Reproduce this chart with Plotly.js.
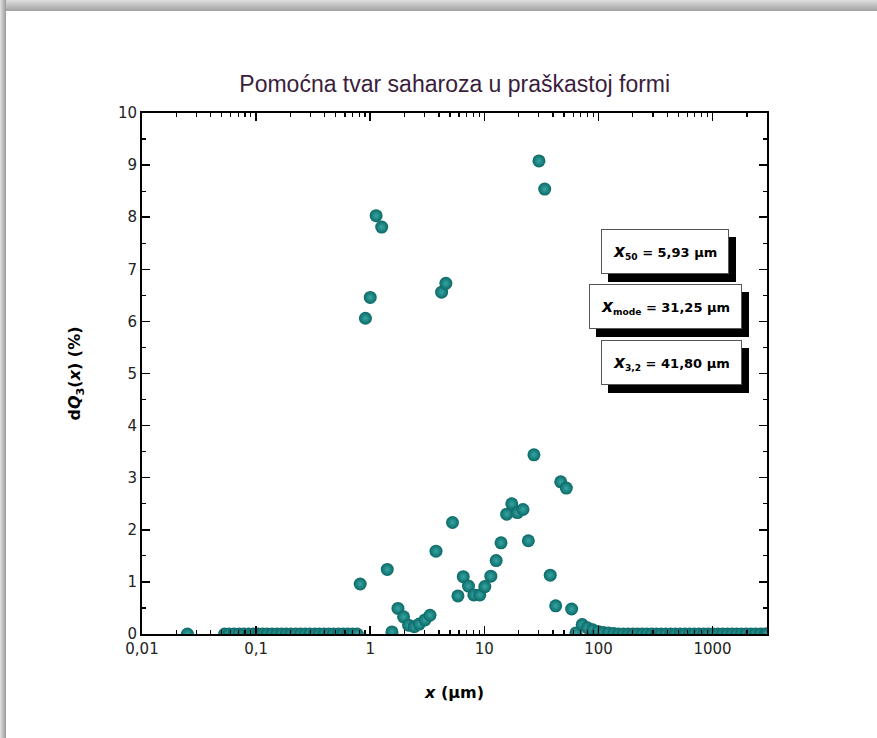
<!DOCTYPE html>
<html>
<head>
<meta charset="utf-8">
<script src="https://cdn.plot.ly/plotly-3.0.1.min.js"></script>
<style>
  html, body { margin: 0; padding: 0; width: 877px; height: 738px; overflow: hidden; background: #ffffff; }
  #frameTop { position: absolute; left: 0; top: 0; width: 877px; height: 11px; z-index: 10;
              background: linear-gradient(to bottom, #dedede, #a2a2a2); }
  #frameLeft { position: absolute; left: 0; top: 0; width: 6px; height: 738px; z-index: 10;
               background: linear-gradient(to right, #e2e2e2, #9a9a9a); }
  #chart { position: absolute; left: 0; top: 0; width: 877px; height: 738px; z-index: 1; }
</style>
</head>
<body>
<div id="chart"></div>
<div id="frameTop"></div>
<div id="frameLeft"></div>
<script>
// Particle size classes (µm) and frequency dQ3(x) (%)
const leftTailSizes = [0.025, 0.053, 0.058, 0.064, 0.071, 0.078, 0.086, 0.094, 0.104, 0.114, 0.125, 0.138, 0.152, 0.167, 0.184, 0.202, 0.222, 0.245, 0.269, 0.296, 0.326, 0.358, 0.394, 0.434, 0.477, 0.525, 0.577, 0.635, 0.699, 0.768];
const leftTailValues = [0, 0, 0, 0, 0, 0, 0, 0, 0, 0, 0, 0, 0, 0, 0, 0, 0, 0, 0, 0, 0, 0, 0, 0, 0, 0, 0, 0, 0, 0];

const mainSizes = [0.817, 0.908, 1.00, 1.126, 1.26, 1.41, 1.55, 1.75, 1.96, 2.17, 2.43, 2.69, 3.02, 3.34, 3.77, 4.22, 4.6, 5.26, 5.87, 6.53, 7.26, 8.09, 9.13, 10.1, 11.4, 12.7, 14.0, 15.7, 17.4, 19.5, 21.8, 24.3, 27.2, 30.1, 33.8, 37.8, 42.2, 46.7, 52.3, 58.2, 63.5, 72.1, 80.0, 89.0, 99.0, 110, 122, 136];
const mainValues = [0.96, 6.06, 6.46, 8.03, 7.81, 1.24, 0.04, 0.49, 0.33, 0.17, 0.14, 0.19, 0.27, 0.36, 1.59, 6.56, 6.73, 2.14, 0.73, 1.10, 0.92, 0.75, 0.75, 0.91, 1.11, 1.41, 1.75, 2.30, 2.50, 2.33, 2.39, 1.79, 3.44, 9.08, 8.54, 1.13, 0.54, 2.92, 2.80, 0.48, 0.02, 0.18, 0.12, 0.08, 0.05, 0.03, 0.02, 0.01];

const rightTailSizes = [150, 165, 182, 200, 220, 242, 266, 293, 322, 354, 390, 429, 472, 519, 571, 628, 691, 760, 836, 919, 1011, 1112, 1224, 1346, 1481, 1629, 1792, 1971, 2168, 2385, 2623, 2885, 3000];
const rightTailValues = [0, 0, 0, 0, 0, 0, 0, 0, 0, 0, 0, 0, 0, 0, 0, 0, 0, 0, 0, 0, 0, 0, 0, 0, 0, 0, 0, 0, 0, 0, 0, 0, 0];

const xTickVals = [0.01, 0.1, 1, 10, 100, 1000];
const xTickText = ['0,01', '0,1', '1', '10', '100', '1000'];

const annotationTexts = [
  '<b><span style="font-size:17px"><i>x</i></span><sub>50</sub> = 5,93 μm</b>',
  '<b><span style="font-size:17px"><i>x</i></span><sub>mode</sub> = 31,25 μm</b>',
  '<b><span style="font-size:17px"><i>x</i></span><sub>3,2</sub> = 41,80 μm</b>'
];
const annX = [0.837, 0.8376, 0.847];
const annY = [0.735, 0.6286, 0.5215];

const sizes = leftTailSizes.concat(mainSizes, rightTailSizes);
const values = leftTailValues.concat(mainValues, rightTailValues);

const trace = {
  x: sizes, y: values, type: 'scatter', mode: 'markers',
  marker: { size: 13, color: '#0c6967', gradient: { type: 'radial', color: '#35a6a3' }, line: { width: 0 } },
  hoverinfo: 'x+y'
};

const annotations = [];
annotationTexts.forEach((t, i) => {
  annotations.push({ xref: 'paper', yref: 'paper', x: annX[i], y: annY[i], xanchor: 'center', yanchor: 'middle',
    text: t, showarrow: false,
    xshift: 7, yshift: -8, bgcolor: '#000000', bordercolor: '#000000', borderwidth: 1, borderpad: 11,
    font: { family: 'DejaVu Sans', size: 13, color: '#000000' } });
});
annotationTexts.forEach((t, i) => {
  annotations.push({ xref: 'paper', yref: 'paper', x: annX[i], y: annY[i], xanchor: 'center', yanchor: 'middle',
    text: t, showarrow: false,
    bgcolor: '#ffffff', bordercolor: '#555555', borderwidth: 1, borderpad: 11,
    font: { family: 'DejaVu Sans', size: 13, color: '#000000' } });
});

const layout = {
  width: 877, height: 738,
  paper_bgcolor: '#ffffff', plot_bgcolor: '#ffffff',
  margin: { l: 142, r: 110, t: 113, b: 104 },
  showlegend: false,
  title: { text: 'Pomoćna tvar saharoza u praškastoj formi', x: 0.5185, xanchor: 'center', y: 0.886, yanchor: 'middle',
           font: { family: 'Liberation Sans, Arial', size: 23, color: '#3a1d3c' } },
  xaxis: {
    type: 'log', range: [-2, 3.477], tickmode: 'array', tickvals: xTickVals, ticktext: xTickText,
    ticks: 'inside', ticklen: 8, tickwidth: 1.5, tickcolor: '#000', showline: true, linewidth: 2, linecolor: '#000',
    mirror: 'allticks', showgrid: false, zeroline: false,
    minor: { ticks: 'inside', ticklen: 4, tickwidth: 1.2, tickcolor: '#000', dtick: 'D1', showgrid: false },
    tickfont: { family: 'DejaVu Sans', size: 15, color: '#222' },
    title: { text: '<b><i>x</i> (μm)</b>', standoff: 30, font: { family: 'DejaVu Sans', size: 16, color: '#000' } }
  },
  yaxis: {
    range: [0, 10], dtick: 1, ticks: 'inside', ticklen: 8, tickwidth: 1.5, tickcolor: '#000',
    showline: true, linewidth: 2, linecolor: '#000', mirror: 'allticks', showgrid: false, zeroline: false,
    minor: { ticks: 'inside', ticklen: 4, tickwidth: 1.2, tickcolor: '#000', dtick: 0.5, showgrid: false },
    tickfont: { family: 'DejaVu Sans', size: 15, color: '#222' },
    title: { text: '<b>d<i>Q</i><sub>3</sub>(<i>x</i>) (%)</b>', standoff: 33, font: { family: 'DejaVu Sans', size: 16, color: '#000' } }
  },
  annotations: annotations
};

Plotly.newPlot('chart', [trace], layout, { displayModeBar: false, staticPlot: true });
</script>
</body>
</html>
